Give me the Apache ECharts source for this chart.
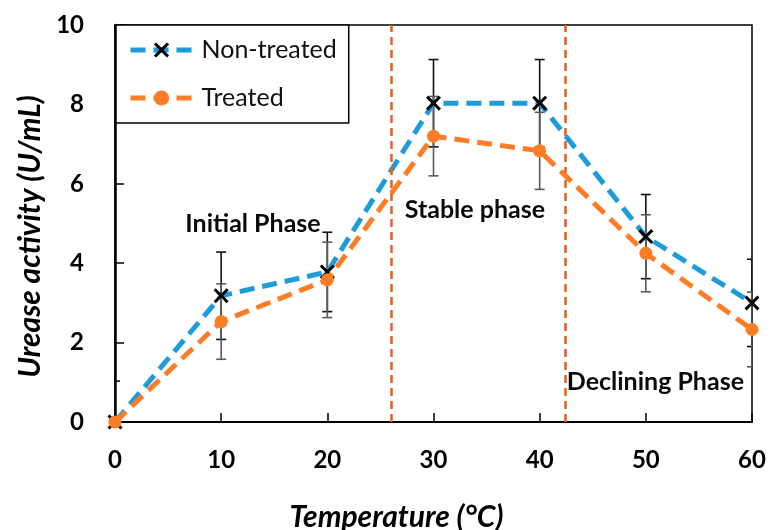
<!DOCTYPE html>
<html>
<head>
<meta charset="utf-8">
<script src="https://cdn.jsdelivr.net/npm/echarts@6/dist/echarts.min.js"></script>
<style>html,body{margin:0;padding:0;background:#fff}#c{width:770px;height:530px}</style>
</head>
<body>
<div id="c"></div>
<script>
const temperature = [0, 10, 20, 30, 40, 50, 60];
const nonTreated = [0, 3.18, 3.78, 8.03, 8.03, 4.67, 3.0];
const nonTreatedErr = [1.03, 1.1, 1.0, 1.1, 1.1, 1.06, 1.1];
const treated = [0, 2.53, 3.58, 7.2, 6.83, 4.25, 2.33];
const treatedErr = [0, 0.95, 0.95, 1.0, 0.97, 0.97, 0.94];
const phaseBounds = [26, 42.4];
const phaseLabels = ['Initial Phase', 'Stable phase', 'Declining Phase'];
const phaseLabelX = [13.0, 33.9, 50.9];
const phaseLabelY = [5.0, 5.34, 1.0];
const xTicks = [0, 60, 10];
const yTicks = [0, 10, 2];

const FONT = 'Lato';
const BLUE = '#1E9BD9';
const ORANGE = '#FC7D25';
const VLINE = '#E2601C';
const X_PATH = 'path://M0,1.4L1.4,0L5,3.6L8.6,0L10,1.4L6.4,5L10,8.6L8.6,10L5,6.4L1.4,10L0,8.6L3.6,5Z';

function errData(vals, errs) {
  return temperature.map((t, i) => [t, vals[i] - errs[i], vals[i] + errs[i]]);
}
function errRender(color) {
  return function (params, api) {
    const x = api.value(0), lo = api.value(1), hi = api.value(2);
    if (hi === lo) return null;
    const pt = api.coord([x, hi]);
    const pb = api.coord([x, lo]);
    const w = 5;
    const st = { stroke: color, lineWidth: 1.6 };
    return {
      type: 'group',
      children: [
        { type: 'line', shape: { x1: pt[0], y1: pt[1], x2: pb[0], y2: pb[1] }, style: st },
        { type: 'line', shape: { x1: pt[0] - w, y1: pt[1], x2: pt[0] + w, y2: pt[1] }, style: st },
        { type: 'line', shape: { x1: pb[0] - w, y1: pb[1], x2: pb[0] + w, y2: pb[1] }, style: st }
      ]
    };
  };
}
function textRender(params, api) {
  const p = api.coord([api.value(0), api.value(1)]);
  return {
    type: 'text',
    x: p[0], y: p[1],
    style: {
      text: phaseLabels[params.dataIndex],
      fill: '#0a0a0a',
      font: 'bold 25px ' + FONT,
      align: 'center', verticalAlign: 'middle'
    }
  };
}

const chart = echarts.init(document.getElementById('c'), null, { renderer: 'canvas' });
chart.setOption({
  animation: false,
  backgroundColor: '#fff',
  textStyle: { fontFamily: FONT },
  grid: { left: 115, right: 18, top: 25, bottom: 108, show: true, borderColor: '#000', borderWidth: 1.5, outerBoundsMode: 'none', containLabel: false },
  legend: {
    data: ['Non-treated', 'Treated'],
    orient: 'vertical',
    left: 116, top: 25,
    backgroundColor: '#fff',
    borderColor: '#000', borderWidth: 1.5,
    padding: [12, 12, 12, 12],
    itemWidth: 62, itemHeight: 19, itemGap: 22,
    lineStyle: { width: 5 },
    textStyle: { fontFamily: FONT, fontSize: 25, color: '#111', lineHeight: 26, padding: [0, 0, 0, 4] }
  },
  xAxis: {
    type: 'value', min: xTicks[0], max: xTicks[1], interval: xTicks[2],
    name: 'Temperature (°C)', nameLocation: 'middle', nameGap: 80,
    nameTextStyle: { fontFamily: FONT, fontSize: 30, fontWeight: 'bold', fontStyle: 'italic', color: '#000', padding: [0, 74, 0, 0] },
    axisLine: { show: true, onZero: false, lineStyle: { color: '#000', width: 2 } },
    axisTick: { show: true, inside: true, length: 9, lineStyle: { color: '#000', width: 1.5 } },
    axisLabel: { fontFamily: FONT, fontSize: 24, fontWeight: 'bold', color: '#000', margin: 26 },
    splitLine: { show: false }
  },
  yAxis: {
    type: 'value', min: yTicks[0], max: yTicks[1], interval: yTicks[2],
    name: 'Urease activity (U/mL)', nameLocation: 'middle', nameGap: 70,
    nameTextStyle: { fontFamily: FONT, fontSize: 30, fontWeight: 'bold', fontStyle: 'italic', color: '#000', padding: [0, 26, 0, 0] },
    axisLine: { show: true, onZero: false, lineStyle: { color: '#000', width: 2.5 } },
    axisTick: { show: true, inside: true, length: 9, lineStyle: { color: '#000', width: 1.5 } },
    axisLabel: { fontFamily: FONT, fontSize: 24, fontWeight: 'bold', color: '#000', margin: 31 },
    splitLine: { show: false }
  },
  series: [
    {
      name: 'nt-err', type: 'custom', renderItem: errRender('#111'), clip: true,
      data: errData(nonTreated, nonTreatedErr), encode: { x: 0, y: [1, 2] }, z: 3, silent: true
    },
    {
      name: 't-err', type: 'custom', renderItem: errRender('#5a5a5a'), clip: true,
      data: errData(treated, treatedErr), encode: { x: 0, y: [1, 2] }, z: 3, silent: true
    },
    {
      name: 'Non-treated', type: 'line',
      data: temperature.map((t, i) => [t, nonTreated[i]]),
      symbol: X_PATH, symbolSize: 15,
      itemStyle: { color: '#000' },
      lineStyle: { color: BLUE, width: 5, type: [15, 8] },
      z: 4,
      markLine: {
        silent: true, symbol: 'none', label: { show: false },
        lineStyle: { color: VLINE, width: 2.5, type: [8, 5] },
        data: phaseBounds.map(v => ({ xAxis: v }))
      }
    },
    {
      name: 'Treated', type: 'line',
      data: temperature.map((t, i) => [t, treated[i]]),
      symbol: 'circle', symbolSize: 13,
      itemStyle: { color: ORANGE },
      lineStyle: { color: ORANGE, width: 5, type: [15, 8] },
      z: 5
    },
    {
      name: 'phases', type: 'custom', renderItem: textRender, silent: true,
      data: phaseLabelX.map((x, i) => [x, phaseLabelY[i]]),
      encode: { x: 0, y: 1 },
      z: 6
    }
  ]
});
</script>
</body>
</html>
